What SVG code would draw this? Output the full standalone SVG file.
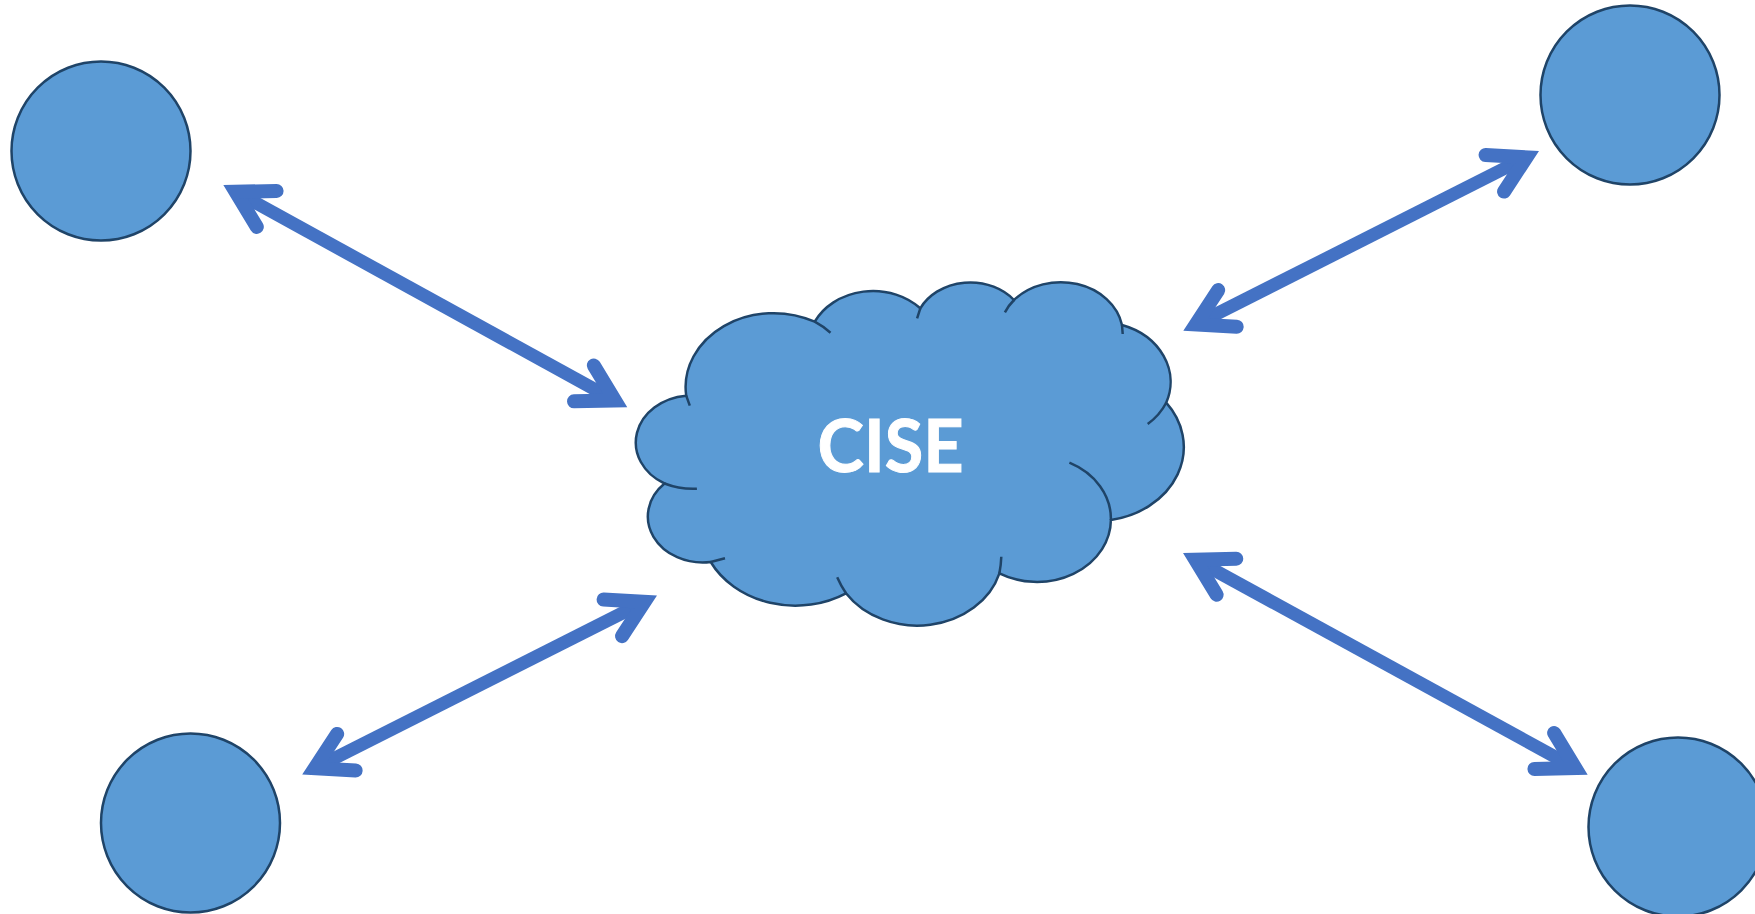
<svg xmlns="http://www.w3.org/2000/svg" width="1755" height="914" viewBox="0 0 1755 914">
<style>
.node{fill:#5B9BD5;stroke:#1F4468;stroke-width:2.5}
.tail{fill:none;stroke:#1F4468;stroke-width:2.5}
.conn{stroke:#4472C4;stroke-width:13;fill:none;marker-start:url(#head);marker-end:url(#head)}
.label{font-family:"Lato","Liberation Sans",sans-serif;font-weight:700;font-size:73px;fill:#fff;stroke:#fff;stroke-width:1;text-anchor:middle}
</style>
<defs>
<marker id="head" markerUnits="userSpaceOnUse" markerWidth="100" markerHeight="100" refX="50" refY="50" viewBox="0 0 100 100" orient="auto-start-reverse">
<path d="M14.5 29.5L50 50L14.5 70.5" fill="none" stroke="#4472C4" stroke-width="14" stroke-linecap="round" stroke-linejoin="miter" stroke-miterlimit="4"/>
</marker>
</defs>
<rect width="1755" height="914" fill="#fff"/>
<g id="connectors">
<line class="conn" x1="235.6" y1="191.8" x2="615" y2="400.500"/>
<line class="conn" x1="1195.800" y1="324.4" x2="1526.500" y2="157.300"/>
<line class="conn" x1="314.700" y1="768.2" x2="644.500" y2="601.9"/>
<line class="conn" x1="1195.300" y1="559.7" x2="1575.4" y2="768"/>
</g>
<g id="node-top-left"><circle class="node" cx="101" cy="151" r="89.5"/></g>
<g id="node-top-right"><circle class="node" cx="1630" cy="95" r="89.5"/></g>
<g id="node-bottom-left"><circle class="node" cx="190.500" cy="823" r="89.5"/></g>
<g id="node-bottom-right"><circle class="node" cx="1678" cy="827" r="89.5"/></g>
<g id="node-cloud">
<path class="node" d="M664.5 483.500A56 47 0 0 1 686.2 395.7A88 74 0 0 1 814.7 321.7A65 55 0 0 1 920.3 308.3A56 47 0 0 1 1014 300A62.3 52.5 0 0 1 1122 325A71 60 0 0 1 1166.2 402.7A88 74 0 0 1 1110.9 520A74 62.5 0 0 1 999.4 573.3A85.4 72 0 0 1 846 593.3A95 80 0 0 1 710.7 562A55 46 0 0 1 664.5 483.500Z"/>
<path class="tail" d="M686.2 395.7L689.8 405.7M814.7 321.7A88 74 0 0 1 830.5 332.7M920.3 308.3L917.1 318.3M1014 300A62.3 52.5 0 0 0 1004.9 312.3M1122 325L1122.7 334M1166.2 402.7A71 60 0 0 1 1147.7 424M1110.9 520A74 62.5 0 0 0 1069.4 462.7M999.4 573.3Q1001 565 1001.3 556.7M846 593.3Q841 586 837.2 577.3M710.7 562L725 558.3M664.5 483.500Q680 489.500 696.9 488.7"/>
<text class="label" x="890.500" y="472" textLength="146" lengthAdjust="spacingAndGlyphs">CISE</text>
</g>
</svg>
